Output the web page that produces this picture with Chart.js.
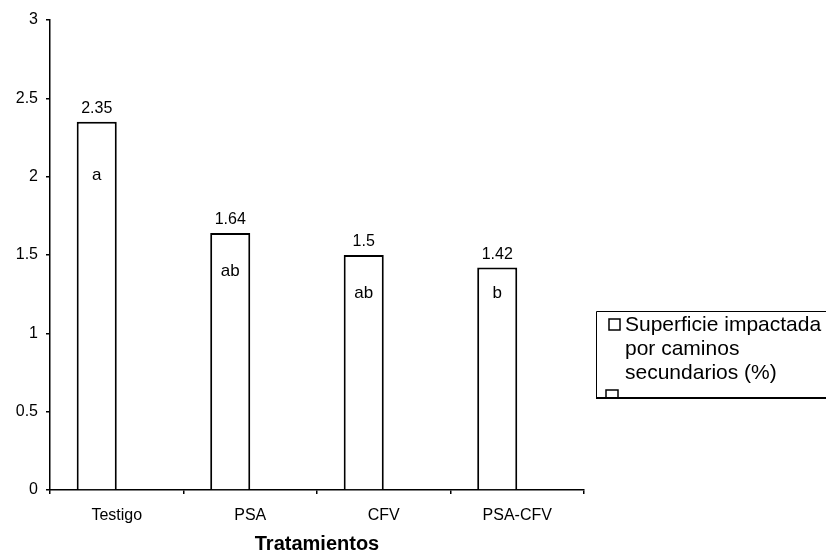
<!DOCTYPE html>
<html>
<head>
<meta charset="utf-8">
<script src="https://cdn.jsdelivr.net/npm/chart.js@4/dist/chart.umd.min.js"></script>
<style>
  body { margin: 0; background: #fff; }
  #wrap { width: 826px; height: 556px; }
</style>
</head>
<body>
<div id="wrap"><canvas id="Graph" width="826" height="556"></canvas></div>
<script>
// data
var tratamientos = ["Testigo", "PSA", "CFV", "PSA-CFV"];
var superficie = [2.35, 1.64, 1.5, 1.42];
var valorTexto = ["2.35", "1.64", "1.5", "1.42"];
var letras = ["a", "ab", "ab", "b"];
var serieVacia = [null, null, null, null];
var leyenda = ["Superficie impactada", "por caminos", "secundarios (%)"];

var fuente = "'Liberation Sans', Arial, sans-serif";

// numbers on top of the bars and the letters inside them
var etiquetas = {
    id: "etiquetas",
    afterDatasetsDraw: function(chart) {
        var ctx = chart.ctx;
        var meta = chart.getDatasetMeta(0);
        var bajada = [53, 38, 38, 26];
        ctx.save();
        ctx.fillStyle = "#000";
        ctx.textAlign = "center";
        for (var i = 0; i < meta.data.length; i++) {
            var bar = meta.data[i];
            ctx.font = "16px " + fuente;
            ctx.textBaseline = "alphabetic";
            ctx.fillText(valorTexto[i], bar.x, bar.y - 9);
            ctx.font = "17px " + fuente;
            ctx.textBaseline = "middle";
            ctx.fillText(letras[i], bar.x, bar.y + bajada[i]);
        }
        ctx.restore();
    }
};

// legend box on the right, text wraps over three lines
var cajaLeyenda = {
    id: "cajaLeyenda",
    afterDraw: function(chart) {
        var ctx = chart.ctx;
        var x0 = 596, y0 = 311, y1 = 398;
        ctx.save();
        ctx.strokeStyle = "#000";
        ctx.lineWidth = 1;
        ctx.beginPath();
        ctx.moveTo(830, y0 + 0.5);
        ctx.lineTo(x0 + 0.5, y0 + 0.5);
        ctx.lineTo(x0 + 0.5, y1);
        ctx.stroke();
        ctx.lineWidth = 2;
        ctx.beginPath();
        ctx.moveTo(x0, y1);
        ctx.lineTo(830, y1);
        ctx.stroke();
        ctx.lineWidth = 1.5;
        ctx.strokeRect(609, 319, 11, 11);
        ctx.strokeRect(606, 390, 12, 8);
        ctx.fillStyle = "#000";
        ctx.font = "21px " + fuente;
        ctx.textAlign = "left";
        ctx.textBaseline = "middle";
        ctx.fillText(leyenda[0], 625, 325);
        ctx.fillText(leyenda[1], 625, 349);
        ctx.fillText(leyenda[2], 625, 373);
        ctx.restore();
    }
};

var chart = new Chart("Graph", {
    type: "bar",
    data: {
        labels: tratamientos,
        datasets: [{
            label: leyenda.join(" "),
            data: superficie,
            backgroundColor: "#fff",
            borderColor: "#000",
            borderWidth: 2,
            categoryPercentage: 0.6,
            barPercentage: 1.0
        }, {
            label: "",
            data: serieVacia,
            backgroundColor: "#fff",
            borderColor: "#000",
            borderWidth: 1,
            categoryPercentage: 0.6,
            barPercentage: 1.0
        }]
    },
    options: {
        responsive: false,
        animation: false,
        layout: { padding: { left: 10, right: 242, top: 20, bottom: 0 } },
        plugins: {
            legend: { display: false },
            tooltip: { enabled: false }
        },
        scales: {
            y: {
                min: 0,
                max: 3,
                afterFit: function(s) { s.width = 40; },
                ticks: {
                    stepSize: 0.5,
                    color: "#000",
                    padding: 8,
                    font: { family: fuente, size: 16 },
                    callback: function(v) { return String(v); }
                },
                grid: { drawOnChartArea: false, drawTicks: true, tickLength: 4, color: "#000", lineWidth: 1.5 },
                border: { color: "#000", width: 1.5 }
            },
            x: {
                afterFit: function(s) { s.height = 66; },
                ticks: {
                    color: "#000",
                    padding: 12,
                    font: { family: fuente, size: 16 }
                },
                grid: { offset: true, drawOnChartArea: false, drawTicks: true, tickLength: 4, color: "#000", lineWidth: 1.5 },
                border: { color: "#000", width: 1.5 },
                title: {
                    display: true,
                    text: "Tratamientos",
                    color: "#000",
                    padding: { top: 4, bottom: 0 },
                    font: { family: fuente, size: 20, weight: "bold" }
                }
            }
        }
    },
    plugins: [etiquetas, cajaLeyenda]
});
</script>
</body>
</html>
